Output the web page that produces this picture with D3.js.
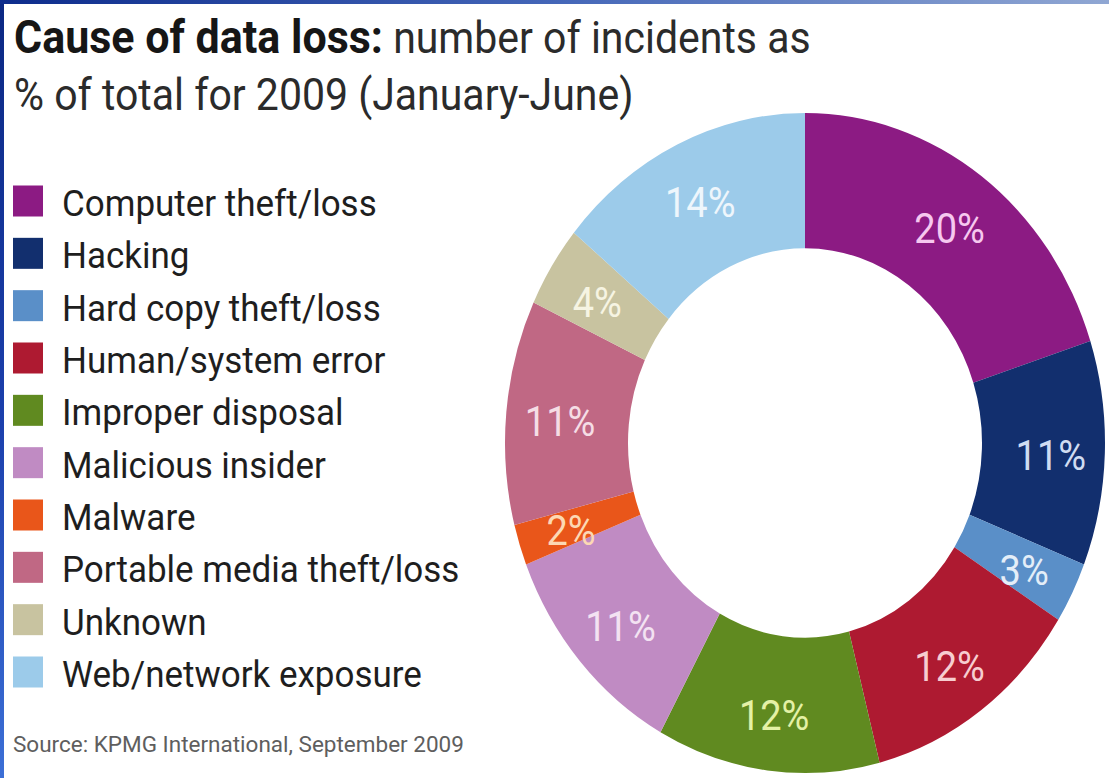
<!DOCTYPE html>
<html>
<head>
<meta charset="utf-8">
<script src="https://cdn.jsdelivr.net/npm/d3@7/dist/d3.min.js"></script>
<style>
  html, body { margin: 0; padding: 0; background: #ffffff; }
  svg { display: block; }
</style>
</head>
<body>
<svg id="chart" width="1109" height="778"></svg>
<script>
// Causes of data loss, Jan–Jun 2009, share of incidents (%)
const categories = [
  "Computer theft/loss",
  "Hacking",
  "Hard copy theft/loss",
  "Human/system error",
  "Improper disposal",
  "Malicious insider",
  "Malware",
  "Portable media theft/loss",
  "Unknown",
  "Web/network exposure"
];
const shares = [20, 11, 3, 12, 12, 11, 2, 11, 4, 14];
const sliceColors = [
  "#8c1b83", "#122f6e", "#5a8fc8", "#ae1a31", "#608a20",
  "#c08bc3", "#e9561a", "#c06884", "#c8c3a0", "#9ccbea"
];
const labelColors = [
  "#f6c8ef", "#cfdcf2", "#e4eef8", "#f7cdd0", "#e4f1a6",
  "#f3e2f2", "#fcd8b4", "#f5dde5", "#f6f4e2", "#eef6fc"
];
const titleBold = "Cause of data loss:";
const titleRest = " number of incidents as";
const titleLine2 = "% of total for 2009 (January-June)";
const sourceNote = "Source: KPMG International, September 2009";

const data = categories.map((c, i) => ({ category: c, value: shares[i], color: sliceColors[i], labelColor: labelColors[i] }));

const svg = d3.select("#chart");
const W = 1109, H = 778;
const FONT = "Roboto, 'Liberation Sans', sans-serif";

// frame gradients
const defs = svg.append("defs");
const gLeft = defs.append("linearGradient").attr("id", "edgeLeft")
  .attr("x1", 0).attr("y1", 0).attr("x2", 0).attr("y2", 1);
gLeft.append("stop").attr("offset", "0%").attr("stop-color", "#0b2883");
gLeft.append("stop").attr("offset", "55%").attr("stop-color", "#1c40ad");
gLeft.append("stop").attr("offset", "100%").attr("stop-color", "#3c6fd6");
const gTop = defs.append("linearGradient").attr("id", "edgeTop")
  .attr("x1", 0).attr("y1", 0).attr("x2", 1).attr("y2", 0);
gTop.append("stop").attr("offset", "0%").attr("stop-color", "#0d2c8c");
gTop.append("stop").attr("offset", "50%").attr("stop-color", "#4466b8");
gTop.append("stop").attr("offset", "100%").attr("stop-color", "#90a7d3");

svg.append("rect").attr("width", W).attr("height", H).attr("fill", "#ffffff");

// title (type is a touch taller than it is wide)
const title = svg.append("text")
  .attr("transform", "translate(14,53) scale(1,1.08)")
  .attr("font-family", FONT)
  .attr("font-size", 41)
  .attr("fill", "#2b2b2b");
title.append("tspan").attr("font-weight", 700).attr("fill", "#161616")
  .attr("font-size", 43).text(titleBold);
title.append("tspan").text(titleRest);
svg.append("text")
  .attr("transform", "translate(14,110) scale(1,1.08)")
  .attr("font-family", FONT)
  .attr("font-size", 41)
  .attr("fill", "#2b2b2b")
  .text(titleLine2);

// legend
const legendY = d3.scalePoint().domain(categories).range([201, 672]);
const legend = svg.append("g");
const rows = legend.selectAll("g.row").data(data).join("g")
  .attr("class", "row")
  .attr("transform", d => `translate(0,${legendY(d.category)})`);
rows.append("rect")
  .attr("x", 13).attr("y", -15.5)
  .attr("width", 30).attr("height", 31)
  .attr("fill", d => d.color);
rows.append("text")
  .attr("transform", "translate(62,2) scale(1,1.04)")
  .attr("dy", "0.36em")
  .attr("font-family", FONT)
  .attr("font-size", 35)
  .attr("fill", "#1e1e1e")
  .text(d => d.category);

// source note
svg.append("text")
  .attr("x", 13).attr("y", 752)
  .attr("font-family", FONT)
  .attr("font-size", 22.5)
  .attr("fill", "#5e5e5e")
  .text(sourceNote);

// donut (slightly taller than wide)
const cx = 805, cy = 443, rOuter = 300, rInner = 177, stretchY = 1.1;
const pie = d3.pie().sort(null).value(d => d.value);
const arc = d3.arc().innerRadius(rInner).outerRadius(rOuter);
const labelR = 246;
const labelArc = d3.arc().innerRadius(labelR).outerRadius(labelR);

const donut = svg.append("g")
  .attr("transform", `translate(${cx},${cy}) scale(1,${stretchY})`);
const arcs = pie(data);
donut.selectAll("path").data(arcs).join("path")
  .attr("d", arc)
  .attr("fill", d => d.data.color);
donut.selectAll("text").data(arcs).join("text")
  .attr("transform", d => `translate(${labelArc.centroid(d)})`)
  .attr("text-anchor", "middle")
  .attr("dy", "0.45em")
  .attr("font-family", FONT)
  .attr("font-weight", 400)
  .attr("font-size", 38)
  .attr("fill", d => d.data.labelColor)
  .text(d => `${d.data.value}%`);

// frame edges
svg.append("rect").attr("x", 0).attr("y", 0).attr("width", 4).attr("height", H).attr("fill", "url(#edgeLeft)");
svg.append("rect").attr("x", 0).attr("y", 0).attr("width", W).attr("height", 4).attr("fill", "url(#edgeTop)");
</script>
</body>
</html>
